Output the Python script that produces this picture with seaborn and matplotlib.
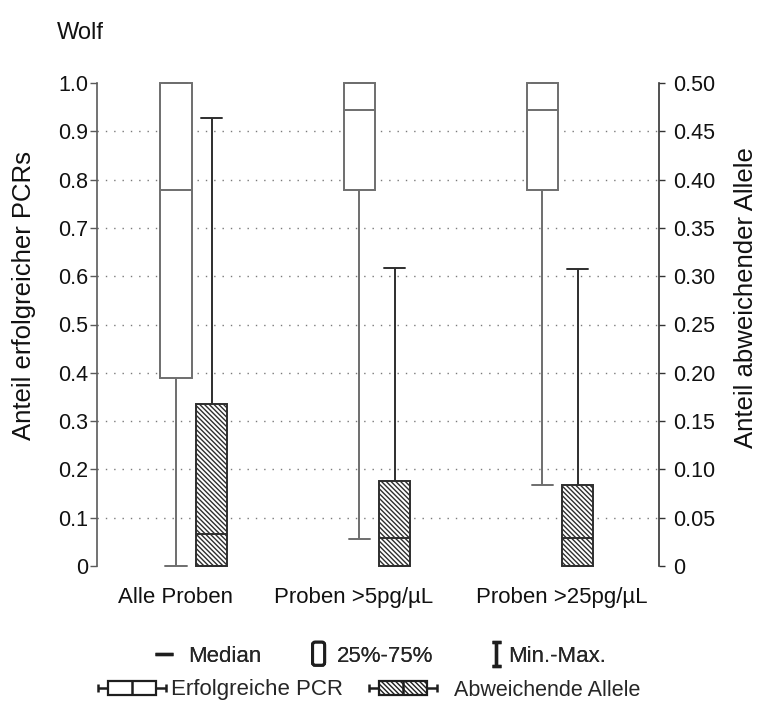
import numpy as np
import pandas as pd
import matplotlib
matplotlib.use("Agg")
import matplotlib.pyplot as plt
import seaborn as sns
from matplotlib.transforms import ScaledTranslation
from matplotlib.legend_handler import HandlerBase
from matplotlib.patches import Rectangle, FancyBboxPatch
from matplotlib.lines import Line2D

# ---- data -------------------------------------------------------------
groups = ["Alle Proben", "Proben >5pg/µL", "Proben >25pg/µL"]
series = ["Erfolgreiche PCR", "Abweichende Allele"]

# five-number summaries (min, Q1, median, Q3, max) per sample set
pcr_min = [0.0, 0.056, 0.168]
pcr_q1 = [0.389, 0.778, 0.778]
pcr_med = [0.778, 0.944, 0.944]
pcr_q3 = [1.0, 1.0, 1.0]
pcr_max = [1.0, 1.0, 1.0]

allele_min = [0.0, 0.0, 0.0]
allele_q1 = [0.0, 0.0, 0.0]
allele_med = [0.0335, 0.0295, 0.0287]
allele_q3 = [0.1675, 0.0885, 0.0835]
allele_max = [0.464, 0.308, 0.3075]

left_ticks = [0.0, 0.1, 0.2, 0.3, 0.4, 0.5, 0.6, 0.7, 0.8, 0.9, 1.0]
left_labels = ["0", "0.1", "0.2", "0.3", "0.4", "0.5", "0.6", "0.7", "0.8", "0.9", "1.0"]
right_ticks = [0.0, 0.05, 0.10, 0.15, 0.20, 0.25, 0.30, 0.35, 0.40, 0.45, 0.50]
right_labels = ["0", "0.05", "0.10", "0.15", "0.20", "0.25", "0.30", "0.35", "0.40", "0.45", "0.50"]


def five_number_frame(name, mins, q1s, meds, q3s, maxs):
    # five points per box reproduce exactly the given quartiles and extremes
    rows = []
    for g, a, b, c, d, e in zip(groups, mins, q1s, meds, q3s, maxs):
        for v in (a, b, c, d, e):
            rows.append({"group": g, "series": name, "value": v})
    return pd.DataFrame(rows)


pcr_df = five_number_frame(series[0], pcr_min, pcr_q1, pcr_med, pcr_q3, pcr_max)
allele_df = five_number_frame(series[1], allele_min, allele_q1, allele_med, allele_q3, allele_max)

# ---- style ------------------------------------------------------------
sns.set_style("white")
plt.rcParams["font.family"] = ["Liberation Sans", "DejaVu Sans"]
plt.rcParams["hatch.linewidth"] = 1.0
HATCH = "\\" * 7

W, H = 758, 707
fig = plt.figure(figsize=(W / 100, H / 100), dpi=100)
ax_l, ax_r, ax_t, ax_b = 97, 659, 83, 566
ax = fig.add_axes([ax_l / W, 1 - ax_b / H, (ax_r - ax_l) / W, (ax_b - ax_t) / H])
ax2 = ax.twinx()

white = {s: "white" for s in series}
common = dict(x="group", y="value", hue="series", hue_order=series, order=groups,
              width=0.39, gap=0.13, dodge=True, whis=np.inf, palette=white,
              saturation=1, legend=False, capwidths=0.115)

sns.boxplot(data=pcr_df, ax=ax, linecolor="#6e6e6e", linewidth=1.4, **common)
sns.boxplot(data=allele_df, ax=ax2, linecolor="#2e2e2e", linewidth=1.4, **common)

for p in ax2.patches:
    p.set_hatch(HATCH)
    p.set_edgecolor("#2e2e2e")
for a in (ax, ax2):
    for art in list(a.patches) + list(a.lines):
        art.set_clip_on(False)

ax.set_xlim(-0.529, 2.541)
ax.set_ylim(0, 1.0)
ax2.set_ylim(0, 0.5)

# dotted guide lines between the end ticks
ax.set_yticks(left_ticks)
ax.set_yticklabels(left_labels)
ax.grid(axis="y", linestyle=(0, (1, 5)), color="#7a7a7a", linewidth=1.0)
ax.set_axisbelow(True)
gl = ax.yaxis.get_gridlines()
gl[0].set_visible(False)
gl[-1].set_visible(False)
ax.xaxis.grid(False)

ax2.set_yticks(right_ticks)
ax2.set_yticklabels(right_labels)
ax2.grid(False)

for s in ("top", "bottom", "right"):
    ax.spines[s].set_visible(False)
for s in ("top", "bottom", "left"):
    ax2.spines[s].set_visible(False)
ax.spines["left"].set_bounds(0, 1.0)
ax.spines["left"].set_color("#5a5a5a")
ax.spines["left"].set_linewidth(1.2)
ax2.spines["right"].set_bounds(0, 0.5)
ax2.spines["right"].set_color("#333333")
ax2.spines["right"].set_linewidth(1.2)

ax.tick_params(axis="y", direction="out", length=5, width=1, color="#5a5a5a",
               labelsize=15.5, pad=1.5, labelcolor="#111111")
ax2.tick_params(axis="y", direction="out", length=4.5, width=1, color="#333333",
                labelsize=15.5, pad=6, labelcolor="#111111")
ax.tick_params(axis="x", length=0, labelsize=16, pad=15, labelcolor="#111111")
ax2.tick_params(axis="x", length=0)

# category captions sit slightly left of their box pairs
label_shift_px = [-18, -23, 2]
for lab, dx in zip(ax.get_xticklabels(), label_shift_px):
    lab.set_transform(lab.get_transform() + ScaledTranslation(dx / 100, 0, fig.dpi_scale_trans))

ax.set_xlabel("")
ax2.set_xlabel("")
ax.set_ylabel("Anteil erfolgreicher PCRs", fontsize=18.5, color="#111111")
ax2.set_ylabel("Anteil abweichender Allele", fontsize=18.5, color="#111111")
ax.yaxis.set_label_coords(-0.108, 0.56)
ax2.yaxis.set_label_coords(1.133, 0.555)

fig.text(57 / W, 1 - 33 / H, "Wolf", fontsize=17, ha="left", va="center", color="#111111")

# ---- legend glyphs ----------------------------------------------------
PX = 0.72  # points per pixel at 100 dpi
INK = "#1e1e1e"


class RoundBoxGlyph(HandlerBase):
    def create_artists(self, legend, orig_handle, xd, yd, width, height, fontsize, trans):
        w, h = 12 * PX, 23 * PX
        x0 = -xd + width - w - 6 * PX
        yc = -yd + height / 2
        p = FancyBboxPatch((x0, yc - h / 2), w, h, boxstyle=f"round,pad=0,rounding_size={2.5 * PX}",
                           facecolor="white", edgecolor=INK, linewidth=2.2, transform=trans)
        return [p]


class IBeamGlyph(HandlerBase):
    def create_artists(self, legend, orig_handle, xd, yd, width, height, fontsize, trans):
        cw, h = 9 * PX, 24 * PX
        xc = -xd + width - 1.5 * PX - cw / 2
        yc = -yd + height / 2
        kw = dict(color=INK, linewidth=2.4, transform=trans, solid_capstyle="butt")
        return [Line2D([xc, xc], [yc - h / 2, yc + h / 2], **kw),
                Line2D([xc - cw / 2, xc + cw / 2], [yc - h / 2] * 2, **kw),
                Line2D([xc - cw / 2, xc + cw / 2], [yc + h / 2] * 2, **kw)]


class DashGlyph(HandlerBase):
    def create_artists(self, legend, orig_handle, xd, yd, width, height, fontsize, trans):
        w = 18 * PX
        x1 = -xd + width - 9 * PX
        yc = -yd + height / 2
        return [Line2D([x1 - w, x1], [yc, yc], color=INK, linewidth=2.4,
                       transform=trans, solid_capstyle="butt")]


class BoxPlotGlyph(HandlerBase):
    def __init__(self, hatch=None, align="right"):
        super().__init__()
        self.hatch = hatch
        self.align = align

    def create_artists(self, legend, orig_handle, xd, yd, width, height, fontsize, trans):
        total = 68 * PX
        x0 = -xd + (width - total if self.align == "right" else 0)
        yc = -yd + height / 2
        wl = 10 * PX
        bh = 14 * PX
        ch = 8 * PX
        bw = total - 2 * wl
        kw = dict(color=INK, linewidth=1.8, transform=trans, solid_capstyle="butt")
        arts = [Line2D([x0, x0 + wl], [yc, yc], **kw),
                Line2D([x0 + total - wl, x0 + total], [yc, yc], **kw),
                Line2D([x0, x0], [yc - ch / 2, yc + ch / 2], **kw),
                Line2D([x0 + total, x0 + total], [yc - ch / 2, yc + ch / 2], **kw)]
        arts.append(Rectangle((x0 + wl, yc - bh / 2), bw, bh, facecolor="white",
                              edgecolor=INK, linewidth=1.6, hatch=self.hatch, transform=trans))
        arts.append(Line2D([x0 + wl + bw / 2] * 2, [yc - bh / 2, yc + bh / 2], **kw))
        return arts


class _Key:
    pass


k_med, k_iqr, k_rng = _Key(), _Key(), _Key()
leg1 = fig.legend([k_med, k_iqr, k_rng], ["Median", "25%-75%", "Min.-Max."],
                  handler_map={k_med: DashGlyph(), k_iqr: RoundBoxGlyph(), k_rng: IBeamGlyph()},
                  ncol=3, frameon=False, loc="center left",
                  bbox_to_anchor=(146 / W, 1 - 656 / H), borderpad=0, borderaxespad=0,
                  handlelength=1.62, handletextpad=0.27, columnspacing=1.5, fontsize=16)
fig.add_artist(leg1)

k_pcr, k_all = _Key(), _Key()
leg2 = fig.legend([k_pcr, k_all], series,
                  handler_map={k_pcr: BoxPlotGlyph(), k_all: BoxPlotGlyph(hatch=HATCH, align="left")},
                  ncol=2, frameon=False, loc="center left",
                  bbox_to_anchor=(86 / W, 1 - 690 / H), borderpad=0, borderaxespad=0,
                  handlelength=3.6, handletextpad=0.225, columnspacing=1.19, fontsize=16)
leg2.get_texts()[1].set_fontsize(15.5)

fig.savefig("out.png", dpi=100)
